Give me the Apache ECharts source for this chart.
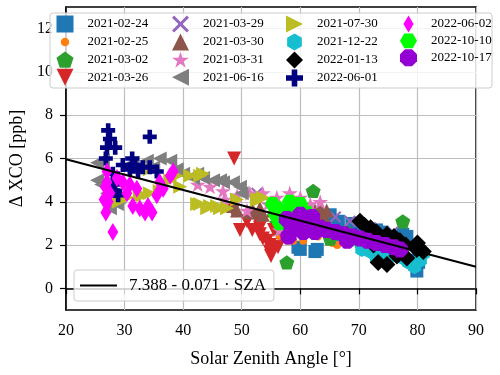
<!DOCTYPE html>
<html>
<head>
<meta charset="utf-8">
<script src="https://cdn.jsdelivr.net/npm/echarts@6/dist/echarts.min.js"></script>
<style>
  html, body { margin: 0; padding: 0; background: #fff; }
  #main { width: 500px; height: 375px; }
</style>
</head>
<body>
<div id="main"></div>
<script>
// tick labels
var xTicks = [20, 30, 40, 50, 60, 70, 80, 90];
var yTicks = [0, 2, 4, 6, 8, 10, 12];

// fit: intercept + slope * SZA
var fitIntercept = 7.388;
var fitSlope = -0.071;
var fitName = '7.388 - 0.071 · SZA';

// [SZA, delta XCO] per measurement day
var d20210224 = [[56.3,2.9],[59.6,1.9],[60.0,1.8],[62.5,1.7],[62.9,1.8],[64.6,3.3],[65.1,3.4],[65.6,2.3],[66.5,3.1],[68.8,3.0],[70.5,2.8],[73.0,2.7],[74.0,2.6],[77.5,2.5],[78.2,2.4],[79.9,1.3],[79.9,0.8],[80.2,1.2]];
var d20210225 = [[56.5,2.4],[57.9,2.2],[58.8,2.2],[60.5,2.2],[61.5,2.5],[63.0,2.4],[64.0,2.6],[65.5,2.1],[66.3,2.0],[67.3,2.2],[69.7,2.1],[71.0,2.3]];
var d20210302 = [[56.0,3.0],[56.2,2.8],[57.7,1.2],[59.0,3.3],[62.2,4.5],[65.1,2.3],[68.0,2.6],[70.2,2.2],[77.5,3.1]];
var d20210326 = [[48.7,6.0],[48.5,3.6],[49.7,2.7],[50.9,3.1],[51.8,2.7],[52.6,3.2],[53.1,2.5],[53.1,2.8],[53.6,2.3],[54.3,2.2],[54.8,2.0],[54.8,1.7],[55.5,1.9],[56.2,1.9],[55.0,1.5],[57.0,2.5],[58.0,2.9],[55.5,2.7],[56.5,3.4]];
var d20210329 = [[52.6,4.4],[60.5,3.5],[66.0,3.3],[68.5,3.1],[72.0,2.8],[75.8,2.6]];
var d20210330 = [[48.5,3.8],[49.2,3.6],[51.4,3.5],[51.9,3.6],[53.1,3.7],[53.6,3.4],[55.3,3.6],[57.0,3.5],[61.0,3.4],[62.5,3.6],[63.4,3.7],[63.9,3.4],[64.5,3.6]];
var d20210331 = [[42.5,4.8],[44.6,4.7],[46.8,4.5],[47.0,4.1],[49.2,4.3],[51.4,4.4],[53.6,4.4],[54.5,3.9],[56.0,4.2],[58.2,4.4],[60.0,4.2],[61.7,3.9],[63.4,4.0],[50.9,3.6],[57.7,3.7],[56.5,2.7],[57.0,3.1],[61.3,2.9]];
var d20210616 = [[25.3,5.8],[26.3,5.9],[25.3,5.0],[26.0,4.8],[27.0,4.4],[27.5,3.7],[28.7,3.9],[29.0,4.2],[31.4,5.8],[33.8,5.9],[36.0,6.0],[37.8,5.9],[34.9,5.6],[38.9,5.5],[40.0,5.3],[41.7,5.1],[42.4,5.3],[43.4,5.1],[45.1,5.0],[46.3,5.0],[46.8,4.9],[48.5,4.9],[49.7,4.7],[50.0,4.4]];
var d20210730 = [[29.0,4.0],[30.4,4.2],[32.6,4.3],[33.1,4.3],[34.3,4.4],[34.3,5.5],[36.0,4.5],[37.8,5.0],[38.9,5.2],[39.5,4.7],[41.2,5.2],[42.9,5.2],[43.4,5.3],[42.4,3.9],[42.9,3.9],[44.1,3.7],[44.6,3.8],[45.8,3.8],[46.3,3.7],[47.5,3.7],[49.2,4.1],[52.6,4.1],[53.1,4.1],[53.6,4.2]];
var d20211222 = [[68.5,2.2],[70.5,1.8],[71.9,1.7],[73.0,1.4],[73.6,1.5],[74.5,1.8],[75.0,1.4],[76.0,1.6],[77.5,1.4],[78.5,1.2],[79.5,1.0],[80.5,1.3],[81.0,1.6]];
var d20220113 = [[70.2,3.1],[71.0,2.9],[72.0,2.8],[73.0,2.6],[74.8,2.5],[76.0,2.4],[77.0,2.2],[78.0,2.0],[79.9,1.8],[81.0,1.7],[78.2,1.4],[74.8,1.1],[73.3,1.2],[76.5,1.5],[72.5,2.0],[80.0,2.1],[75.5,1.9]];
var d20220601 = [[27.2,7.3],[27.5,6.9],[27.0,6.5],[28.4,6.5],[26.8,6.0],[34.3,7.0],[31.3,6.0],[31.8,5.7],[33.1,5.6],[29.7,5.7],[30.9,5.5],[32.3,5.4],[34.3,5.6],[35.5,5.4],[28.0,4.8],[28.4,4.5],[28.9,4.3],[28.0,5.3]];
var d20220602 = [[28.0,2.6],[26.8,3.5],[26.5,4.1],[27.2,4.0],[27.0,4.9],[27.0,5.4],[28.7,5.1],[29.7,4.9],[30.9,4.8],[32.1,4.6],[31.4,3.8],[32.6,3.7],[33.5,3.5],[34.7,3.5],[34.0,3.8],[35.5,4.3],[36.6,4.6],[37.8,5.2],[38.3,5.4],[36.0,4.9],[30.4,4.4],[27.5,4.4],[26.7,4.7]];
var d20221010 = [[55.3,3.9],[55.8,3.4],[56.0,3.7],[56.5,3.0],[57.0,3.6],[57.7,3.3],[58.2,4.0],[58.5,3.1],[59.0,3.6],[60.0,3.9],[61.1,3.5]];
var d20221017 = [[57.7,3.2],[58.0,2.4],[58.5,2.8],[59.5,3.0],[60.0,3.4],[60.5,2.6],[61.5,2.9],[62.0,3.3],[62.5,2.6],[63.4,2.8],[64.5,2.7],[66.0,2.6],[67.5,2.5],[68.0,2.2],[69.0,2.4],[70.2,2.3],[71.5,2.2],[73.0,2.1],[74.5,2.0],[76.0,1.9],[77.0,1.8]];

// marker shapes (matplotlib style)
var SQUARE = 'path://M-1,-1 L1,-1 L1,1 L-1,1 Z';
var PENTAGON = 'path://M0,-1 L0.951,-0.309 L0.588,0.809 L-0.588,0.809 L-0.951,-0.309 Z';
var TRI_DOWN = 'path://M-1,-1 L1,-1 L0,1 Z';
var TRI_UP = 'path://M-1,1 L1,1 L0,-1 Z';
var TRI_LEFT = 'path://M1,-1 L1,1 L-1,0 Z';
var TRI_RIGHT = 'path://M-1,-1 L-1,1 L1,0 Z';
var XMARK = 'path://M-1,-0.75 L-0.75,-1 L0,-0.25 L0.75,-1 L1,-0.75 L0.25,0 L1,0.75 L0.75,1 L0,0.25 L-0.75,1 L-1,0.75 L-0.25,0 Z';
var STAR = 'path://M0,-1 L0.225,-0.309 L0.951,-0.309 L0.363,0.118 L0.588,0.809 L0,0.382 L-0.588,0.809 L-0.363,0.118 L-0.951,-0.309 L-0.225,-0.309 Z';
var HEX = 'path://M0,-1 L0.866,-0.5 L0.866,0.5 L0,1 L-0.866,0.5 L-0.866,-0.5 Z';
var HEX_FLAT = 'path://M-1,0 L-0.5,-0.866 L0.5,-0.866 L1,0 L0.5,0.866 L-0.5,0.866 Z';
var PLUS = 'path://M-0.33,-1 L0.33,-1 L0.33,-0.33 L1,-0.33 L1,0.33 L0.33,0.33 L0.33,1 L-0.33,1 L-0.33,0.33 L-1,0.33 L-1,-0.33 L-0.33,-0.33 Z';
var OCTAGON = 'path://M-0.383,-0.924 L0.383,-0.924 L0.924,-0.383 L0.924,0.383 L0.383,0.924 L-0.383,0.924 L-0.924,0.383 L-0.924,-0.383 Z';
var DIAMOND = 'path://M0,-1 L1,0 L0,1 L-1,0 Z';
var THIN_DIAMOND = 'path://M0,-1 L0.6,0 L0,1 L-0.6,0 Z';
// small dot with an invisible padded box, so the legend keeps it small
var SMALL_DOT = 'path://M-1,-1 M1,1 M-0.5,0 A0.5,0.5 0 1 1 0.5,0 A0.5,0.5 0 1 1 -0.5,0 Z';

var days = [
    { name: '2021-02-24', data: d20210224, symbol: SQUARE, size: 13, color: '#1f77b4' },
    { name: '2021-02-25', data: d20210225, symbol: 'circle', size: 8, color: '#ff7f0e', icon: SMALL_DOT },
    { name: '2021-03-02', data: d20210302, symbol: PENTAGON, size: 15, color: '#2ca02c' },
    { name: '2021-03-26', data: d20210326, symbol: TRI_DOWN, size: 14, color: '#d62728' },
    { name: '2021-03-29', data: d20210329, symbol: XMARK, size: 12, color: '#9467bd' },
    { name: '2021-03-30', data: d20210330, symbol: TRI_UP, size: 14, color: '#8c564b' },
    { name: '2021-03-31', data: d20210331, symbol: STAR, size: 16, color: '#e377c2' },
    { name: '2021-06-16', data: d20210616, symbol: TRI_LEFT, size: 14, color: '#7f7f7f' },
    { name: '2021-07-30', data: d20210730, symbol: TRI_RIGHT, size: 14, color: '#bcbd22' },
    { name: '2021-12-22', data: d20211222, symbol: HEX, size: 15, color: '#17becf' },
    { name: '2022-01-13', data: d20220113, symbol: DIAMOND, size: 17, color: '#000000' },
    { name: '2022-06-01', data: d20220601, symbol: PLUS, size: 14, color: '#000080' },
    { name: '2022-06-02', data: d20220602, symbol: THIN_DIAMOND, size: 18, color: '#ff00ff' },
    { name: '2022-10-10', data: d20221010, symbol: HEX_FLAT, size: 16, color: '#00ff00' },
    { name: '2022-10-17', data: d20221017, symbol: OCTAGON, size: 16, color: '#9400d3' }
];

var FONT = 'Liberation Serif';
var chart = echarts.init(document.getElementById('main'));

var series = days.map(function (d) {
    return {
        type: 'scatter',
        name: d.name,
        data: d.data,
        symbol: d.symbol,
        symbolSize: d.size,
        symbolKeepAspect: true,
        itemStyle: { color: d.color, opacity: 1 },
        emphasis: { disabled: true },
        z: 2
    };
});
series.push({
    type: 'line',
    name: fitName,
    data: [xTicks[0], xTicks[xTicks.length - 1]].map(function (x) {
        return [x, fitIntercept + fitSlope * x];
    }),
    symbol: 'none',
    lineStyle: { color: '#000', width: 2 },
    itemStyle: { color: '#000' },
    z: 3
});

// legend: 4 columns, filled column by column like matplotlib
var colLeft = [56.5, 172, 286, 400];
var legends = colLeft.map(function (left, i) {
    return {
        data: days.slice(i * 4, i * 4 + 4).map(function (d) {
            return d.icon ? { name: d.name, icon: d.icon } : d.name;
        }),
        orient: 'vertical',
        left: left,
        top: 15.5,
        padding: 0,
        itemWidth: 17,
        itemHeight: 17,
        itemGap: 1,
        selectedMode: false,
        z: 6,
        textStyle: { fontFamily: FONT, fontSize: 13, color: '#000', padding: [0, 0, 0, 9] }
    };
});
legends.push({
    data: [{ name: fitName, icon: 'rect' }],
    left: 74,
    top: 270,
    padding: [7, 8, 7, 6],
    itemWidth: 37,
    itemHeight: 2,
    selectedMode: false,
    backgroundColor: 'rgba(255,255,255,0.8)',
    borderColor: '#cccccc',
    borderWidth: 1,
    borderRadius: 3,
    z: 6,
    textStyle: { fontFamily: FONT, fontSize: 17, color: '#000', padding: [0, 0, 0, 7] }
});

var option = {
    animation: false,
    backgroundColor: '#fff',
    grid: { left: 66, right: 24, top: 7, bottom: 65, show: true, borderColor: '#000', borderWidth: 1.5 },
    legend: legends,
    graphic: [{
        type: 'rect',
        z: 5,
        shape: { x: 50, y: 13, width: 442, height: 75, r: 3 },
        style: { fill: 'rgba(255,255,255,0.8)', stroke: '#cccccc', lineWidth: 1 }
    }],
    xAxis: {
        type: 'value',
        min: 20,
        max: 90,
        interval: 10,
        name: 'Solar Zenith Angle [°]',
        nameLocation: 'middle',
        nameGap: 40,
        nameTextStyle: { fontFamily: FONT, fontSize: 18, color: '#000' },
        axisLine: { lineStyle: { color: '#000', width: 1.5 } },
        axisTick: { length: 6, lineStyle: { color: '#000', width: 1.2 } },
        axisLabel: { fontFamily: FONT, fontSize: 16, color: '#000', margin: 13 },
        splitLine: { lineStyle: { color: '#bdbdbd', width: 1.2 } }
    },
    yAxis: {
        type: 'value',
        min: -1,
        max: 13,
        name: 'Δ XCO [ppb]',
        nameLocation: 'middle',
        nameGap: 37,
        nameTextStyle: { fontFamily: FONT, fontSize: 18, color: '#000' },
        axisLine: { lineStyle: { color: '#000', width: 1.5 } },
        axisTick: { length: 6, customValues: yTicks, lineStyle: { color: '#000', width: 1.2 } },
        axisLabel: { fontFamily: FONT, fontSize: 16, color: '#000', margin: 13, customValues: yTicks },
        splitLine: { lineStyle: { color: '#bdbdbd', width: 1.2 } }
    },
    series: series
};
chart.setOption(option);
</script>
</body>
</html>
